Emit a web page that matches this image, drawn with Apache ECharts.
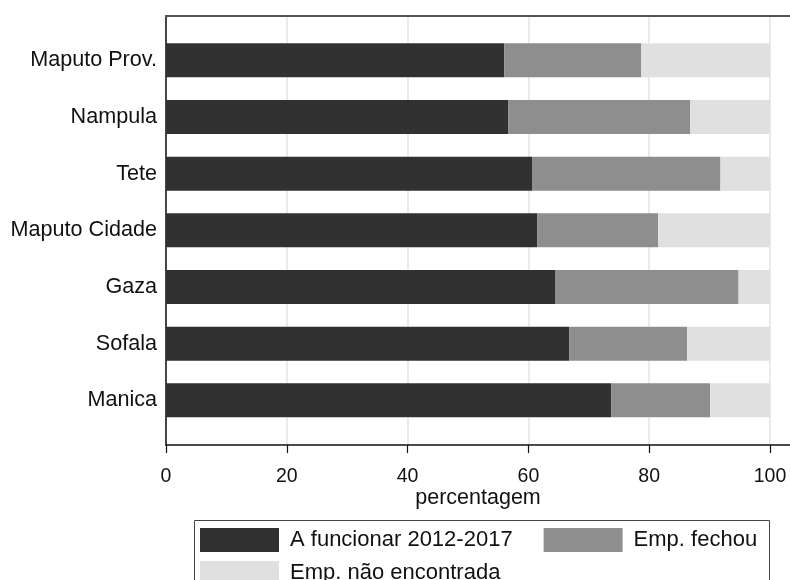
<!DOCTYPE html>
<html>
<head>
<meta charset="utf-8">
<script src="https://cdn.jsdelivr.net/npm/echarts@6/dist/echarts.min.js"></script>
<style>html,body{margin:0;padding:0;background:#fff;}#c{width:790px;height:580px;}</style>
</head>
<body>
<div id="c"></div>
<script>
const categories = ['Maputo Prov.', 'Nampula', 'Tete', 'Maputo Cidade', 'Gaza', 'Sofala', 'Manica'];
const funcionar = [56.0, 56.7, 60.6, 61.5, 64.5, 66.8, 73.7];
const fechou = [22.7, 30.1, 31.2, 20.0, 30.3, 19.5, 16.4];
const naoEncontrada = [21.3, 13.2, 8.2, 18.5, 5.2, 13.7, 9.9];
const seriesNames = ['A funcionar 2012-2017', 'Emp. fechou', 'Emp. não encontrada'];
const xTicks = [0, 20, 40, 60, 80, 100];
const xAxisTitle = 'percentagem';

const colors = ['#313131', '#8e8e8e', '#e0e0e0'];
const font = 'Arial, "Liberation Sans", sans-serif';

const chart = echarts.init(document.getElementById('c'), null, {renderer: 'canvas'});
chart.setOption({
  animation: false,
  backgroundColor: '#fff',
  grid: [
    {left: 166, top: 15.7, width: 624, height: 429.3},   // frame
    {left: 166, top: 15.7, width: 604, height: 429.3},   // grid lines / ticks
    {left: 166, top: 32, width: 604, height: 396.7}      // bars
  ],
  xAxis: [
    {gridIndex: 0, type: 'value', min: 0, max: 1, position: 'bottom',
     axisLine: {show: true, lineStyle: {color: '#111', width: 1.5}},
     axisTick: {show: false}, axisLabel: {show: false}, splitLine: {show: false},
     name: xAxisTitle, nameLocation: 'middle', nameGap: 42,
     nameTextStyle: {fontFamily: font, fontSize: 21.5, color: '#111'}},
    {gridIndex: 0, type: 'value', min: 0, max: 1, position: 'top',
     axisLine: {show: true, lineStyle: {color: '#555', width: 2}},
     axisTick: {show: false}, axisLabel: {show: false}, splitLine: {show: false}},
    {gridIndex: 1, type: 'value', min: xTicks[0], max: xTicks[xTicks.length - 1], interval: 20,
     axisLine: {show: false},
     axisTick: {show: true, length: 8, lineStyle: {color: '#111', width: 1.2}},
     axisLabel: {show: true, margin: 22, fontFamily: font, fontSize: 19.5, color: '#111'},
     splitLine: {show: true, lineStyle: {color: '#e3e3e3', width: 1.5}}},
    {gridIndex: 2, type: 'value', min: 0, max: 100, show: false}
  ],
  yAxis: [
    {gridIndex: 0, type: 'value', min: 0, max: 1,
     axisLine: {show: true, lineStyle: {color: '#111', width: 1.5}},
     axisTick: {show: false}, axisLabel: {show: false}, splitLine: {show: false}},
    {gridIndex: 1, type: 'value', min: 0, max: 1, show: false},
    {gridIndex: 2, type: 'category', data: categories, inverse: true,
     axisLine: {show: false}, axisTick: {show: false},
     axisLabel: {show: true, margin: 9, fontFamily: font, fontSize: 21.6, color: '#111'},
     splitLine: {show: false}}
  ],
  legend: [
    {data: seriesNames.slice(0, 2), left: 200, top: 528, padding: 0, itemGap: 31,
     itemWidth: 79, itemHeight: 24, icon: 'rect',
     textStyle: {fontFamily: font, fontSize: 22, color: '#111', padding: [0, 0, 0, 6]}},
    {data: seriesNames.slice(2), left: 200, top: 561, padding: 0,
     itemWidth: 79, itemHeight: 24, icon: 'rect',
     textStyle: {fontFamily: font, fontSize: 22, color: '#111', padding: [0, 0, 0, 6]}}
  ],
  graphic: [
    {type: 'rect', left: 192, top: 518, shape: {width: 575, height: 80},
     style: {fill: 'none', stroke: '#444', lineWidth: 1}, silent: true}
  ],
  series: [
    {name: seriesNames[0], type: 'bar', stack: 's', xAxisIndex: 3, yAxisIndex: 2, barWidth: 34,
     data: funcionar, itemStyle: {color: colors[0]}},
    {name: seriesNames[1], type: 'bar', stack: 's', xAxisIndex: 3, yAxisIndex: 2, barWidth: 34,
     data: fechou, itemStyle: {color: colors[1]}},
    {name: seriesNames[2], type: 'bar', stack: 's', xAxisIndex: 3, yAxisIndex: 2, barWidth: 34,
     data: naoEncontrada, itemStyle: {color: colors[2]}}
  ]
});
</script>
</body>
</html>
